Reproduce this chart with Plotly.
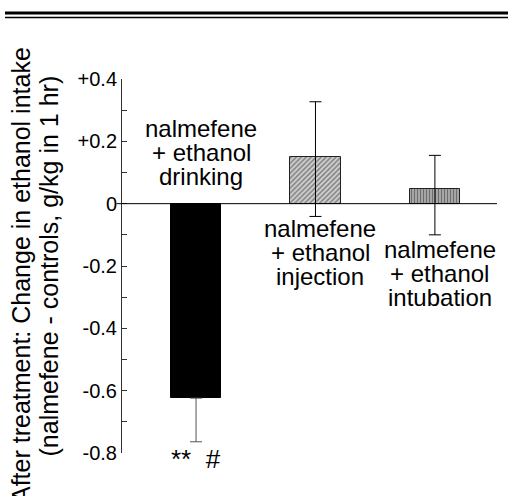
import plotly.graph_objects as go

# ---------------- data ----------------
label_lines = [
    ["nalmefene", "+ ethanol", "drinking"],
    ["nalmefene", "+ ethanol", "injection"],
    ["nalmefene", "+ ethanol", "intubation"],
]
means = [-0.624, 0.151, 0.047]
err_plus = [0.0, 0.176, 0.108]
err_minus = [0.140, 0.192, 0.147]
tick_vals = [0.4, 0.2, 0.0, -0.2, -0.4, -0.6, -0.8]
tick_text = ["+0.4", "+0.2", "0", "-0.2", "-0.4", "-0.6", "-0.8"]
minor_vals = [0.3, 0.1, -0.1, -0.3, -0.5, -0.7]
significance = "**  #"
title_lines = ["After treatment: Change in ethanol intake",
               "(nalmefene - controls, g/kg in 1 hr)"]

# ---------------- styling ----------------
W, H = 508, 496
ML, MR, MT, MB = 122, 11, 79, 43
PW, PH = W - ML - MR, H - MT - MB
FONT = "Liberation Sans, Arial, Helvetica, sans-serif"

def px_x(px):
    return (px - ML) / PW

def px_y(py):
    return (H - MB - py) / PH

label_y = [0.242, -0.080, -0.148]   # data-y of first text line of each label
label_gap = 24                      # px between lines

styles = [
    dict(marker=dict(color="black", line=dict(color="black", width=1)), ecolor="#555555"),
    dict(marker=dict(color="white", line=dict(color="#222222", width=1),
                     pattern=dict(shape="/", fgcolor="#333333", bgcolor="#d0d0d0",
                                  size=3.5, solidity=0.45)), ecolor="black"),
    dict(marker=dict(color="white", line=dict(color="#222222", width=1),
                     pattern=dict(shape="|", fgcolor="#222222", bgcolor="#b8b8b8",
                                  size=3, solidity=0.5)), ecolor="black"),
]

fig = go.Figure()
for i in range(len(means)):
    st = styles[i]
    fig.add_trace(go.Bar(
        x=[i], y=[means[i]], width=0.423,
        marker=st["marker"],
        error_y=dict(type="data", symmetric=False, array=[err_plus[i]],
                     arrayminus=[err_minus[i]], color=st["ecolor"],
                     thickness=1, width=6),
        showlegend=False, hoverinfo="skip",
    ))

annotations = []
for i, lines in enumerate(label_lines):
    for k, t in enumerate(lines):
        annotations.append(dict(
            x=i, y=label_y[i], xref="x", yref="y", text=t, showarrow=False,
            xanchor="center", yanchor="middle", xshift=5, yshift=-k * label_gap,
            font=dict(family=FONT, size=24, color="black"),
        ))

# significance marks below the first bar (x in data, y in paper so it is not hidden)
annotations.append(dict(
    x=0, y=px_y(459), xref="x", yref="paper", text=significance, showarrow=False,
    xanchor="center", yanchor="middle",
    font=dict(family=FONT, size=26, color="black"),
))

annotations.append(dict(
    x=px_x(21), y=px_y(45), xref="paper", yref="paper", text=title_lines[0],
    showarrow=False, textangle=-90, xanchor="center", yanchor="top",
    font=dict(family=FONT, size=25, color="black"),
))
annotations.append(dict(
    x=px_x(48), y=px_y(266.5), xref="paper", yref="paper", text=title_lines[1],
    showarrow=False, textangle=-90, xanchor="center", yanchor="middle",
    font=dict(family=FONT, size=25, color="black"),
))

shapes = [
    dict(type="line", xref="paper", yref="y", x0=px_x(116.5), x1=1, y0=0, y1=0,
         line=dict(color="black", width=1), layer="above"),
    dict(type="line", xref="paper", yref="paper", x0=px_x(5), x1=px_x(510),
         y0=px_y(13), y1=px_y(13), line=dict(color="black", width=3)),
    dict(type="line", xref="paper", yref="paper", x0=px_x(5), x1=px_x(510),
         y0=px_y(17.5), y1=px_y(17.5), line=dict(color="black", width=1.5)),
]

fig.update_layout(
    width=W, height=H,
    margin=dict(l=ML, r=MR, t=MT, b=MB, pad=0),
    paper_bgcolor="white", plot_bgcolor="white",
    xaxis=dict(range=[-0.62, 2.52], visible=False, fixedrange=True),
    yaxis=dict(range=[-0.8, 0.4], tickvals=tick_vals, ticktext=tick_text,
               ticks="inside", ticklen=5, tickcolor="#333333", tickwidth=1,
               showline=True, linecolor="#333333", linewidth=1,
               showgrid=False, zeroline=False, automargin=False,
               tickfont=dict(family=FONT, size=20, color="black"),
               minor=dict(tickvals=minor_vals, ticks="inside", ticklen=5,
                          tickcolor="#333333", tickwidth=1, showgrid=False),
               fixedrange=True),
    annotations=annotations,
    shapes=shapes,
    bargap=0,
)

fig.write_html(
    "out.html",
    config={"displayModeBar": False},
    post_script="document.body.style.margin='0';document.body.style.overflow='hidden';",
)
